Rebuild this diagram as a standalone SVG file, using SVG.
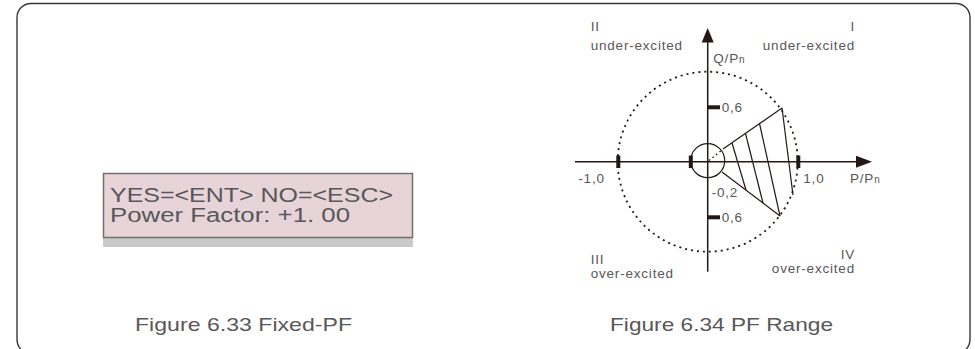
<svg xmlns="http://www.w3.org/2000/svg" width="975" height="349" viewBox="0 0 975 349">
<style>
.t{font-family:"Liberation Sans",Arial,sans-serif;fill:#595757}
.lbl{font-size:13.5px;letter-spacing:0.8px}
.cap{font-size:19px}
.lcd{font-size:20px}
.ax{stroke:#231815;stroke-width:1.5;fill:none}
.ln{stroke:#231815;stroke-width:1.2;fill:none}
.tick{fill:#231815}
</style>
<rect id="frame" x="17" y="3.5" width="953" height="350" rx="14" fill="none" stroke="#3a3636" stroke-width="1.4"/>
<g id="lcd">
<rect x="103" y="238" width="310" height="9" fill="#c9c9c9"/>
<rect x="103.5" y="173.5" width="309" height="64" fill="#e6d4d9" stroke="#717071" stroke-width="1.5"/>
<text class="t lcd" x="110" y="201.5" textLength="283" lengthAdjust="spacingAndGlyphs">YES=&lt;ENT&gt; NO=&lt;ESC&gt;</text>
<text class="t lcd" x="110" y="221.5" textLength="240" lengthAdjust="spacingAndGlyphs">Power  Factor: +1. 00</text>
</g>
<text id="cap1" class="t cap" x="135" y="330.5" textLength="217" lengthAdjust="spacingAndGlyphs">Figure 6.33 Fixed-PF</text>
<text id="cap2" class="t cap" x="610" y="331" textLength="223" lengthAdjust="spacingAndGlyphs">Figure 6.34 PF Range</text>
<g id="axes">
<line class="ax" x1="575" y1="161.7" x2="858" y2="161.7"/>
<polygon class="tick" points="872,161.7 856,155.7 856,167.7"/>
<line class="ax" x1="707.7" y1="271.7" x2="707.7" y2="42"/>
<polygon class="tick" points="707.7,28 701.7,42.5 713.7,42.5"/>
<rect class="tick" x="616.3" y="155.5" width="4" height="12.5"/>
<rect class="tick" x="688.8" y="155.5" width="4" height="12.5"/>
<rect class="tick" x="796.3" y="155.5" width="4" height="12.5"/>
<rect class="tick" x="707.7" y="105.3" width="12.3" height="4"/>
<rect class="tick" x="707.7" y="215.3" width="12.3" height="4"/>
</g>
<g id="circles">
<circle cx="707.7" cy="161.7" r="90" fill="none" stroke="#231815" stroke-width="1.8" stroke-dasharray="2 4"/>
<circle cx="707.7" cy="160.7" r="17" class="ln"/>
</g>
<g id="wedge">
<line class="ln" x1="723" y1="149" x2="782" y2="108"/>
<line class="ln" x1="722" y1="172" x2="780" y2="216"/>
<line class="ln" x1="732" y1="143" x2="746" y2="190"/>
<line class="ln" x1="745.5" y1="133.5" x2="763" y2="203"/>
<line class="ln" x1="759.5" y1="123.5" x2="780" y2="216"/>
<line class="ln" x1="782" y1="108" x2="793" y2="195"/>
<line x1="709" y1="160.5" x2="722" y2="150" stroke="#231815" stroke-width="1.4" stroke-dasharray="1.5 3"/>
</g>
<g id="labels">
<text class="t lbl" x="590.7" y="31">II</text>
<text class="t lbl" x="590.7" y="50">under-excited</text>
<text class="t lbl" x="855" y="31" text-anchor="end">I</text>
<text class="t lbl" x="855" y="50" text-anchor="end">under-excited</text>
<text class="t lbl" x="590.7" y="263.5">III</text>
<text class="t lbl" x="590.7" y="278.3">over-excited</text>
<text class="t lbl" x="855" y="258.5" text-anchor="end">IV</text>
<text class="t lbl" x="855" y="273.3" text-anchor="end">over-excited</text>
<text class="t lbl" x="713.3" y="62.7">Q/P<tspan font-size="10">n</tspan></text>
<text class="t lbl" x="850" y="182.5">P/P<tspan font-size="10">n</tspan></text>
<text class="t lbl" x="721.7" y="112">0,6</text>
<text class="t lbl" x="721.7" y="221.7">0,6</text>
<text class="t lbl" x="711.7" y="197">-0,2</text>
<text class="t lbl" x="578.3" y="182.5">-1,0</text>
<text class="t lbl" x="803.3" y="182.5">1,0</text>
</g>
</svg>
